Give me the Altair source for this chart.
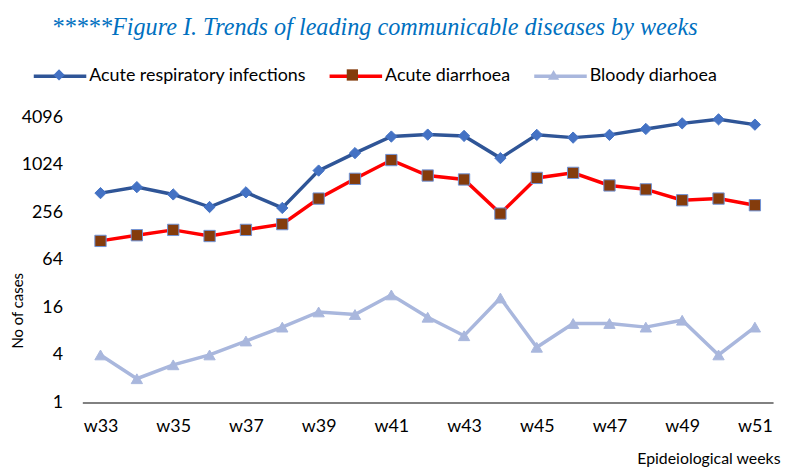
import altair as alt
import pandas as pd

weeks = [f"w{n}" for n in range(33, 52)]
series_names = ["Acute respiratory infections", "Acute diarrhoea", "Bloody diarhoea"]

ari = [447, 532, 430, 298, 457, 290, 862, 1434, 2324, 2459, 2367, 1240, 2438, 2252, 2438, 2898, 3413, 3837, 3286]
acute_diarrhoea = [111, 131, 153, 128, 153, 181, 381, 678, 1171, 746, 665, 246, 696, 806, 559, 498, 363, 381, 314]
bloody_diarrhoea = [4, 2, 3, 4, 6, 9, 14, 13, 23, 12, 7, 21, 5, 10, 10, 9, 11, 4, 9]

tick_weeks = weeks[::2]
y_ticks = [1, 4, 16, 64, 256, 1024, 4096]

line_colors = ["#2F5597", "#FF0000", "#A9B7DD"]
marker_fills = ["#4472C4", "#843C0C", "#A9B7DD"]
marker_strokes = ["#4472C4", "#6F93D8", "#A9B7DD"]
marker_shapes = ["diamond", "square", "triangle-up"]
# legend x offsets (relative to the plot area) of the marker that sits on each legend line
marker_legend_x = [-30, 266, 469]

rows = []
for name, vals in zip(series_names, [ari, acute_diarrhoea, bloody_diarrhoea]):
    for w, v in zip(weeks, vals):
        rows.append({"week": w, "cases": v, "series": name})
df = pd.DataFrame(rows)

FONT = "Lato"

x_enc = alt.X(
    "week:N",
    sort=weeks,
    scale=alt.Scale(type="point", padding=0.5),
    axis=alt.Axis(
        values=tick_weeks,
        title="Epideiological weeks",
        titleFont=FONT,
        titleFontSize=16,
        titleFontWeight="normal",
        titleColor="#000000",
        titleAlign="right",
        titleBaseline="alphabetic",
        titleX=704,
        titleY=62,
        labelFont=FONT,
        labelFontSize=18,
        labelColor="#000000",
        labelAngle=0,
        labelPadding=15,
        ticks=False,
        domainColor="#000000",
        domainWidth=1,
        grid=False,
    ),
)
y_enc = alt.Y(
    "cases:Q",
    scale=alt.Scale(type="log", base=2, domain=[1, 4096], nice=False),
    axis=alt.Axis(
        values=y_ticks,
        format="d",
        title="No of cases",
        titleFont=FONT,
        titleFontSize=15,
        titleFontWeight="normal",
        titleColor="#000000",
        titleX=-65,
        titleY=195,
        titleAlign="center",
        titleBaseline="middle",
        labelFont=FONT,
        labelFontSize=18,
        labelColor="#000000",
        labelPadding=20,
        ticks=False,
        domain=False,
        grid=False,
    ),
)

lines = alt.Chart(df).mark_line(strokeWidth=3.5).encode(
    x=x_enc,
    y=y_enc,
    stroke=alt.Stroke(
        "series:N",
        sort=series_names,
        scale=alt.Scale(domain=series_names, range=line_colors),
        legend=alt.Legend(
            orient="none",
            direction="horizontal",
            title=None,
            labelFont=FONT,
            labelFontSize=18,
            labelColor="#000000",
            labelLimit=500,
            columnPadding=16.5,
            symbolType="stroke",
            symbolSize=2809,
            symbolStrokeWidth=3.5,
            labelOffset=1,
            legendX=-51,
            legendY=-70,
        ),
    ),
)

point_layers = []
for name, fill, stroke, shape, lx in zip(series_names, marker_fills, marker_strokes, marker_shapes, marker_legend_x):
    leg = alt.Legend(
        orient="none",
        title=None,
        labelExpr="''",
        labelOffset=0,
        symbolSize=130,
        symbolOpacity=1,
        symbolStrokeWidth=1,
        symbolStrokeColor=stroke,
        legendX=lx,
        legendY=-49,
    )
    point_layers.append(
        alt.Chart(df)
        .transform_filter(alt.datum.series == name)
        .mark_point(filled=True, opacity=1, size=130, strokeWidth=1, stroke=stroke)
        .encode(
            x=x_enc,
            y=y_enc,
            fill=alt.Fill("series:N", scale=alt.Scale(domain=[name], range=[fill]), legend=leg),
            shape=alt.Shape("series:N", scale=alt.Scale(domain=[name], range=[shape]), legend=leg),
        )
    )

chart = (
    alt.layer(lines, *point_layers)
    .resolve_scale(fill="independent", shape="independent")
    .properties(
        width=697,
        height=288,
        padding={"left": 75, "top": 108, "right": 8, "bottom": 63},
        autosize=alt.AutoSizeParams(type="none"),
        title=alt.Title(
            "*****Figure I. Trends of leading communicable diseases by weeks",
            font="Liberation Serif",
            fontStyle="italic",
            fontWeight="normal",
            fontSize=24.4,
            color="#0070C0",
            anchor="start",
            align="left",
            frame="group",
            baseline="alphabetic",
            dx=-31,
            dy=16,
        ),
    )
    .configure_view(stroke=None)
)

chart.save("out.html", embed_options={"renderer": "svg", "actions": False})
